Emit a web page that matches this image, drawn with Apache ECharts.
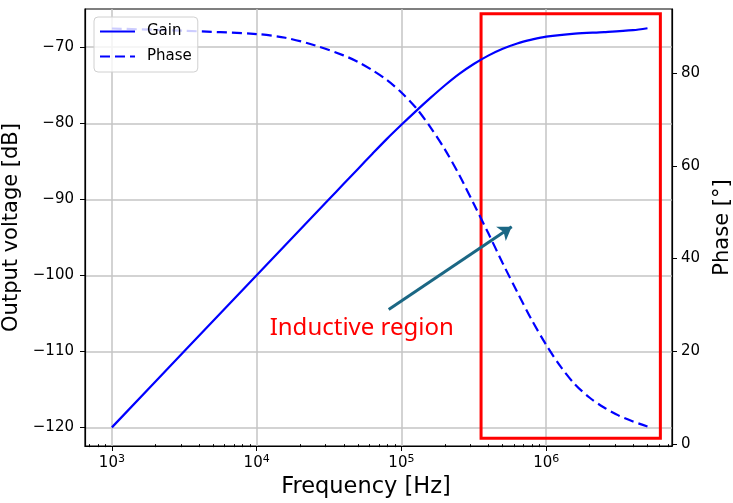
<!DOCTYPE html>
<html>
<head>
<meta charset="utf-8">
<script src="https://cdn.jsdelivr.net/npm/echarts@6/dist/echarts.min.js"></script>
<style>
  html, body { margin: 0; padding: 0; background: #fff; }
  #chart { width: 733px; height: 503px; }
</style>
</head>
<body>
<div id="chart"></div>
<script>
// gain curve
const gainFreq = [1e3, 3.16e3, 1e4, 3.16e4, 3.98e4, 5.01e4, 6.31e4, 7.94e4, 1e5, 1.26e5, 1.58e5, 2e5, 2.51e5, 3.16e5, 3.98e5, 5.01e5, 6.31e5, 7.94e5, 1e6, 1.58e6, 2.51e6, 3.98e6, 5.01e6];
const gainDb = [-120, -110, -100, -90, -88.0, -86.0, -84.0, -82.05, -80.2, -78.4, -76.7, -75.0, -73.5, -72.2, -71.1, -70.2, -69.5, -69.0, -68.6, -68.2, -68.0, -67.75, -67.5];

// phase curve
const phaseFreq = [1e3, 3.16e3, 1e4, 1.58e4, 2.51e4, 3.98e4, 5.01e4, 6.31e4, 7.94e4, 1e5, 1.26e5, 1.58e5, 2e5, 2.51e5, 3.16e5, 3.98e5, 5.01e5, 6.31e5, 7.94e5, 1e6, 1.26e6, 1.58e6, 2e6, 2.51e6, 3.16e6, 3.98e6, 5.01e6];
const phaseDeg = [89.6, 89.1, 88.4, 87.6, 86.0, 83.8, 82.4, 80.6, 78.5, 75.8, 72.5, 68.4, 63.5, 58.0, 51.8, 45.5, 39.0, 32.8, 26.8, 21.4, 16.7, 12.9, 10.0, 7.9, 6.2, 4.9, 3.8];

const xMajor = [1e3, 1e4, 1e5, 1e6];
const xMinor = [];
[1e2, 1e3, 1e4, 1e5, 1e6].forEach((d) => {
  for (let k = 2; k <= 9; k++) xMinor.push(k * d);
});
const gainTicks = [-120, -110, -100, -90, -80, -70];
const phaseTicks = [0, 20, 40, 60, 80];

// annotation (data coordinates)
const regionBox = [[3.55e5, -65.6], [6.15e6, -121.44]];
const arrowLine = [[8.17e4, -104.5], [5.78e5, -93.6]];
const regionLabel = [1.22e4, -106.9];

const font = 'DejaVu Sans';
const minus = (v) => String(v).replace('-', '\u2212');

const myChart = echarts.init(document.getElementById('chart'));
const option = {
  animation: false,
  grid: {
    left: 85, right: 61, top: 9, bottom: 57,
    outerBoundsMode: 'none',
    containLabel: false,
    show: true, borderColor: '#000', borderWidth: 1.2, backgroundColor: '#fff'
  },
  legend: {
    data: ['Gain', 'Phase'],
    orient: 'vertical',
    left: 94, top: 17,
    itemWidth: 35, itemHeight: 14, itemGap: 10,
    padding: [7, 6, 8, 5],
    borderColor: '#d0d0d0', borderWidth: 1, borderRadius: 4,
    backgroundColor: 'rgba(255,255,255,0.8)',
    itemStyle: {opacity: 0},
    textStyle: {fontSize: 15, fontFamily: font, color: '#000', padding: [0, 0, 0, 7]}
  },
  xAxis: [{
    type: 'log', logBase: 10, min: 652, max: 7.4e6,
    name: 'Frequency [Hz]', nameLocation: 'middle', nameGap: 30,
    nameTextStyle: {fontSize: 22.5, fontFamily: font, color: '#000', padding: [0, 25, 0, 0]},
    axisLine: {show: true, onZero: false, lineStyle: {color: '#000', width: 1.2}},
    axisTick: {show: true, length: 5, customValues: xMajor, lineStyle: {color: '#000'}},
    axisLabel: {
      customValues: xMajor, margin: 8, fontSize: 15, fontFamily: font, color: '#000',
      formatter: (v) => '10{sup|' + Math.round(Math.log10(v)) + '}',
      rich: {
        sup: {fontSize: 11, fontFamily: font, color: '#000', padding: [0, 0, 8, 0]}
      }
    },
    splitLine: {show: true, lineStyle: {color: '#c4c4c4', width: 1.5}}
  }, {
    type: 'log', logBase: 10, min: 652, max: 7.4e6, position: 'bottom',
    axisLine: {show: false},
    axisTick: {show: true, length: 3, customValues: xMinor, lineStyle: {color: '#000'}},
    axisLabel: {show: false},
    splitLine: {show: false}
  }],
  yAxis: [{
    type: 'value', min: -122.45, max: -64.97, position: 'left',
    name: 'Output voltage [dB]', nameLocation: 'middle', nameGap: 52,
    nameTextStyle: {fontSize: 21, fontFamily: font, color: '#000'},
    axisLine: {show: true, onZero: false, lineStyle: {color: '#000', width: 1.2}},
    axisTick: {show: true, length: 5, customValues: gainTicks, lineStyle: {color: '#000'}},
    axisLabel: {customValues: gainTicks, margin: 11, fontSize: 15, fontFamily: font, color: '#000', formatter: minus},
    splitLine: {show: true, lineStyle: {color: '#c4c4c4', width: 1.5}}
  }, {
    type: 'value', min: -0.4, max: 93.8, position: 'right',
    name: 'Phase [°]', nameLocation: 'middle', nameGap: 40,
    nameTextStyle: {fontSize: 21, fontFamily: font, color: '#000'},
    axisLine: {show: true, onZero: false, lineStyle: {color: '#000', width: 1.2}},
    axisTick: {show: true, length: 5, customValues: phaseTicks, lineStyle: {color: '#000'}},
    axisLabel: {customValues: phaseTicks, margin: 9, fontSize: 15, fontFamily: font, color: '#000'},
    splitLine: {show: false}
  }],
  series: [{
    name: 'Gain',
    type: 'line',
    xAxisIndex: 0, yAxisIndex: 0,
    data: gainFreq.map((f, i) => [f, gainDb[i]]),
    smooth: 0.3,
    symbol: 'none',
    lineStyle: {color: '#0000ff', width: 2.2},
    itemStyle: {color: '#0000ff'},
    markArea: {
      silent: true,
      itemStyle: {color: 'rgba(0,0,0,0)', borderColor: '#ff0000', borderWidth: 3},
      data: [[{coord: regionBox[0]}, {coord: regionBox[1]}]]
    },
    markLine: {
      silent: true,
      symbol: ['none', 'arrow'],
      symbolSize: 13,
      label: {show: false},
      lineStyle: {color: '#1b6784', width: 3, type: 'solid'},
      data: [[{coord: arrowLine[0]}, {coord: arrowLine[1]}]]
    },
    markPoint: {
      silent: true,
      symbol: 'circle', symbolSize: 1,
      itemStyle: {color: 'rgba(0,0,0,0)'},
      label: {
        show: true, position: 'right', distance: 0,
        formatter: 'Inductive region',
        color: '#ff0000', fontSize: 24, fontFamily: 'Noto Sans'
      },
      data: [{coord: regionLabel}]
    }
  }, {
    name: 'Phase',
    type: 'line',
    xAxisIndex: 0, yAxisIndex: 1,
    data: phaseFreq.map((f, i) => [f, phaseDeg[i]]),
    smooth: 0.3,
    symbol: 'none',
    lineStyle: {color: '#0000ff', width: 2.2, type: [10, 5]},
    itemStyle: {color: '#0000ff'}
  }]
};

myChart.setOption(option);
</script>
</body>
</html>
